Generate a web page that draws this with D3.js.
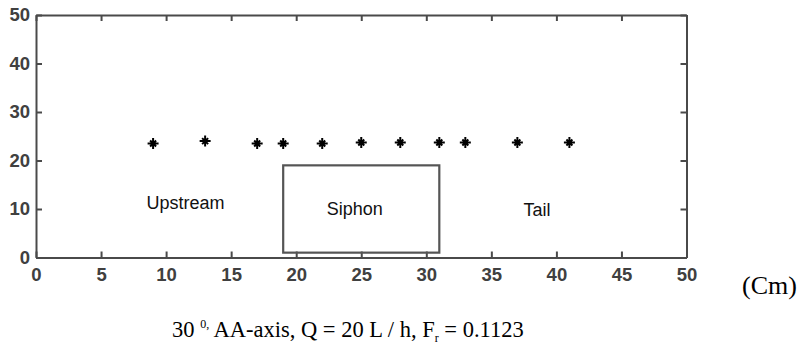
<!DOCTYPE html>
<html>
<head>
<meta charset="utf-8">
<script src="https://cdn.jsdelivr.net/npm/d3@7"></script>
<style>
  body { margin: 0; background: #fff; }
  svg { display: block; }
</style>
</head>
<body>
<div id="chart"></div>
<script>
// measured points along the AA-axis (cm)
var pointX = [9, 13, 17, 19, 22, 25, 28, 31, 33, 37, 41];
var pointY = [23.5, 24, 23.5, 23.5, 23.5, 23.7, 23.7, 23.7, 23.7, 23.7, 23.7];

// siphon box, in data units
var siphonX = [19, 31];
var siphonY = [1, 19];

// region names and where they sit (data units)
var regionNames = ['Upstream', 'Siphon', 'Tail'];
var regionX = [11.5, 24.5, 38.5];
var regionY = [11.2, 10, 9.8];

var xTicks = [0, 5, 10, 15, 20, 25, 30, 35, 40, 45, 50];
var yTicks = [0, 10, 20, 30, 40, 50];

//Width and height
var w = 808;
var h = 345;
var padL = 36, padR = 686.5, padT = 15, padB = 257.5;

var svg = d3.select('#chart')
            .append('svg')
            .attr('width', w)
            .attr('height', h);

var x = d3.scaleLinear().domain([0, 50]).range([padL, padR]);
var y = d3.scaleLinear().domain([0, 50]).range([padB, padT]);

var axisColor = '#4a4a4a';

//axes, ticks pointing inward like matlab
function styleAxis(g) {
  g.select('.domain').attr('stroke', axisColor).attr('stroke-width', 2);
  g.selectAll('.tick line').attr('stroke', axisColor).attr('stroke-width', 2);
  g.selectAll('.tick text')
    .attr('fill', '#404040')
    .style('font-family', '"Liberation Sans", Arial, sans-serif')
    .style('font-weight', 'bold')
    .style('font-size', '18.5px');
}

svg.append('g')
  .attr('transform', 'translate(0,' + padB + ')')
  .call(d3.axisBottom(x).tickValues(xTicks).tickSize(-6).tickSizeOuter(0).tickPadding(10))
  .call(styleAxis);

svg.append('g')
  .attr('transform', 'translate(0,' + padT + ')')
  .call(d3.axisTop(x).tickValues(xTicks).tickSize(-6).tickSizeOuter(0).tickFormat(''))
  .call(styleAxis);

svg.append('g')
  .attr('transform', 'translate(' + padL + ',0)')
  .call(d3.axisLeft(y).tickValues(yTicks).tickSize(-6).tickSizeOuter(0).tickPadding(6))
  .call(styleAxis);

svg.append('g')
  .attr('transform', 'translate(' + padR + ',0)')
  .call(d3.axisRight(y).tickValues(yTicks).tickSize(-6).tickSizeOuter(0).tickFormat(''))
  .call(styleAxis);

//siphon box
svg.append('rect')
  .attr('x', x(siphonX[0]))
  .attr('y', y(siphonY[1]))
  .attr('width', x(siphonX[1]) - x(siphonX[0]))
  .attr('height', y(siphonY[0]) - y(siphonY[1]))
  .attr('fill', 'none')
  .attr('stroke', '#555')
  .attr('stroke-width', 2.2);

//region labels
svg.selectAll('text.region')
  .data(regionNames)
  .enter()
  .append('text')
  .attr('class', 'region')
  .attr('x', function (d, i) { return x(regionX[i]); })
  .attr('y', function (d, i) { return y(regionY[i]); })
  .attr('dy', '0.35em')
  .attr('text-anchor', 'middle')
  .attr('fill', '#111')
  .style('font-family', '"Liberation Sans", Arial, sans-serif')
  .style('font-size', '18px')
  .text(function (d) { return d; });

//asterisk markers
var star = 'M-5.5,0L5.5,0M0,-5.5L0,5.5M-3,-3L3,3M-3,3L3,-3';
svg.selectAll('path.pt')
  .data(pointX)
  .enter()
  .append('path')
  .attr('class', 'pt')
  .attr('transform', function (d, i) {
    return 'translate(' + x(d) + ',' + y(pointY[i]) + ')';
  })
  .attr('d', star)
  .attr('stroke', '#000')
  .attr('stroke-width', 2)
  .attr('fill', 'none');

//unit label
svg.append('text')
  .attr('x', 742)
  .attr('y', 294)
  .style('font-family', '"Liberation Serif", "Times New Roman", serif')
  .style('font-size', '26px')
  .text('(Cm)');

//caption
var cap = svg.append('text')
  .attr('x', 172)
  .attr('y', 337)
  .style('font-family', '"Liberation Serif", "Times New Roman", serif')
  .style('font-size', '22.5px');
cap.append('tspan').text('30 ');
cap.append('tspan').attr('dy', -9).style('font-size', '12px').text('0,');
cap.append('tspan').attr('dy', 9).text(' AA-axis, Q = 20 L / h, F');
cap.append('tspan').attr('dy', 5).style('font-size', '12px').text('r');
cap.append('tspan').attr('dy', -5).text(' = 0.1123');
</script>
</body>
</html>
